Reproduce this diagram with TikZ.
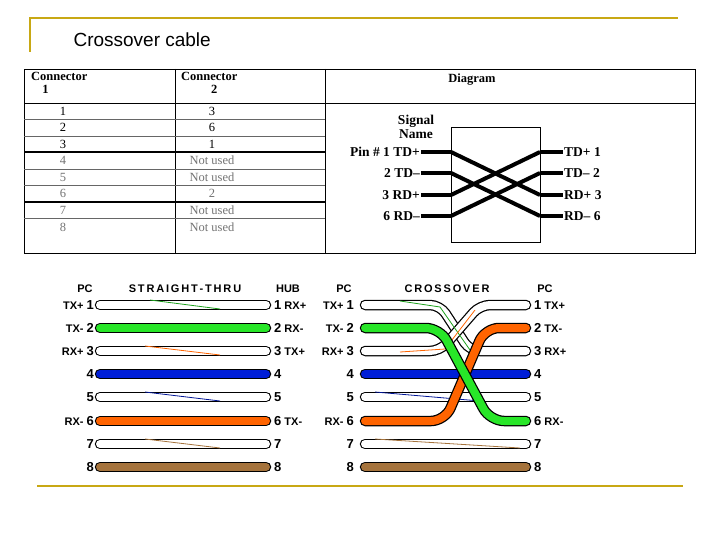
\documentclass[tikz,border=0pt]{standalone}
\usepackage{fontspec}
\setmainfont{Liberation Serif}
\setsansfont{Liberation Sans}
\begin{document}
\begin{tikzpicture}[x=1pt,y=-1pt,
  tbl/.style={font=\fontsize{12.5}{13}\selectfont},
  tblg/.style={font=\fontsize{12.5}{13}\selectfont,text=black!55},
  sig/.style={font=\bfseries\fontsize{13.5}{14}\selectfont,inner sep=1pt},
  lab/.style={font=\sffamily\bfseries\fontsize{11}{12}\selectfont,inner sep=1pt},
  hd/.style={font=\sffamily\bfseries\fontsize{11}{12}\selectfont},
  outer/.style={line width=10.5pt,line cap=round,black},
  inner/.style={line width=8pt,line cap=round},
  stripe/.style={line width=0.8pt}]
\definecolor{gold}{RGB}{200,168,20}
\definecolor{cgreen}{RGB}{40,230,40}
\definecolor{cblue}{RGB}{0,30,215}
\definecolor{corange}{RGB}{255,100,0}
\definecolor{cbrown}{RGB}{165,115,60}
\useasboundingbox (0,0) rectangle (720,540);
% decoration
\draw[gold,line width=2pt] (30,52) -- (30,18) -- (678,18);
\draw[gold,line width=2pt] (37,486) -- (683,486);
\node[anchor=west,font=\sffamily\fontsize{19}{22}\selectfont] (title) at (70,40) {Crossover cable};
% table
\draw[line width=0.8pt] (24,69) rectangle (695,253);
\draw (175,69) -- (175,253) (325,69) -- (325,253) (24,103) -- (695,103);
\foreach \y in {119,136,169,185,218} \draw[black!60] (24,\y) -- (325,\y);
\foreach \y in {152,202} \draw[line width=1.2pt] (24,\y) -- (325,\y);
\node[tbl,anchor=north west,align=left,inner sep=1pt] (h1) at (30,71) {\textbf{Connector}\\\hspace*{0.9em}\textbf{1}};
\node[tbl,anchor=north west,align=left,inner sep=1pt] (h2) at (180,71) {\textbf{Connector}\\\hspace*{2.4em}\textbf{2}};
\node[tbl,font=\bfseries\fontsize{12.5}{13}\selectfont] (h3) at (472,80) {Diagram};
\foreach \a/\b/\y/\s in {1/3/111/tbl,2/6/127/tbl,3/1/144/tbl,4/Not used/160/tblg,5/Not used/177/tblg,6/2/193/tblg,7/Not used/210/tblg,8/Not used/227/tblg}{
  \node[\s] at (63,\y) {\a};
  \node[\s] at (212,\y) {\b};
}
% signal diagram
\draw (451,127) rectangle (540,242);
\node[sig,align=center] (signame) at (416,127) {Signal\\Name};
\foreach \n/\y/\l/\r in {1/152/{Pin \# 1 TD+}/{TD+ 1},2/173/{2 TD--}/{TD-- 2},3/195/{3 RD+}/{RD+ 3},4/216/{6 RD--}/{RD-- 6}}{
  \node[sig,anchor=east] (L\n) at (421,\y) {\l};
  \node[sig,anchor=west] (R\n) at (563,\y) {\r};
  \draw[line width=4pt] (L\n.east) -- (451,\y);
  \draw[line width=4pt] (540,\y) -- (R\n.west);
}
\draw[line width=4pt] (451,152) -- (540,195);
\draw[line width=4pt] (451,173) -- (540,216);
\draw[line width=4pt] (451,195) -- (540,152);
\draw[line width=4pt] (451,216) -- (540,173);
% straight-thru
\node[hd] (pc1) at (85,289) {PC};
\node[hd] (st) at (185,289) {S\,T\,R\,A\,I\,G\,H\,T\,-\,T\,H\,R\,U};
\node[hd] (hub) at (288,289) {HUB};
\node[hd] (pc2) at (344,289) {PC};
\node[hd] (xo) at (447,289) {C\,R\,O\,S\,S\,O\,V\,E\,R};
\node[hd] (pc3) at (545,289) {PC};
\foreach \i/\y/\c/\sl/\sr in {1/305/white/TX+/RX+,2/328/cgreen/TX-/RX-,3/351/white/RX+/TX+,4/374/cblue//,5/397/white//,6/421/corange/RX-/TX-,7/444/white//,8/467/cbrown//}{
  \draw[outer] (100,\y) -- (266,\y);
  \draw[inner,\c] (100,\y) -- (266,\y);
  \node[lab,anchor=east] (sl\i) at (95,\y) {\sl\ \fontsize{13}{14}\selectfont\i};
  \node[lab,anchor=west] (sr\i) at (273,\y) {{\fontsize{13}{14}\selectfont\i}\ \sr};
}
\draw[stripe,cgreen!70!black] (150,300) -- (220,309);
\draw[stripe,corange] (145,346) -- (220,355);
\draw[stripe,cblue!70!black] (145,392) -- (220,401);
\draw[stripe,cbrown] (145,439) -- (220,448);
% crossover labels
\foreach \i/\y/\sl/\sr in {1/305/TX+/TX+,2/328/TX-/TX-,3/351/RX+/RX+,4/374//,5/397//,6/421/RX-/RX-,7/444//,8/467//}{
  \node[lab,anchor=east] (xl\i) at (355,\y) {\sl\ \fontsize{13}{14}\selectfont\i};
  \node[lab,anchor=west] (xr\i) at (533,\y) {{\fontsize{13}{14}\selectfont\i}\ \sr};
}
% straight pairs in crossover
\foreach \y/\c in {397/white,444/white,467/cbrown}{
  \draw[outer] (365,\y) -- (526,\y);
  \draw[inner,\c] (365,\y) -- (526,\y);
}
\draw[stripe,cblue!70!black] (375,392) -- (480,401);
\draw[stripe,cbrown] (375,439) -- (520,448);
% white crossing pairs
\draw[outer,rounded corners=10] (365,305) -- (440,305) -- (470,351) -- (526,351);
\draw[inner,white,rounded corners=10] (365,305) -- (440,305) -- (470,351) -- (526,351);
\draw[outer,rounded corners=10] (365,351) -- (440,351) -- (480,305) -- (526,305);
\draw[inner,white,rounded corners=10] (365,351) -- (440,351) -- (480,305) -- (526,305);
\draw[stripe,cgreen!70!black] (400,301) -- (440,307) -- (470,350);
\draw[stripe,corange] (400,352) -- (445,349) -- (475,310);
% blue
\draw[outer] (365,374) -- (526,374);
\draw[inner,cblue] (365,374) -- (526,374);
% orange & green
\draw[outer,rounded corners=14] (365,421) -- (445,421) -- (485,328) -- (526,328);
\draw[inner,corange,rounded corners=14] (365,421) -- (445,421) -- (485,328) -- (526,328);
\draw[outer,rounded corners=14] (365,328) -- (440,328) -- (490,421) -- (526,421);
\draw[inner,cgreen,rounded corners=14] (365,328) -- (440,328) -- (490,421) -- (526,421);
\end{tikzpicture}
\end{document}
